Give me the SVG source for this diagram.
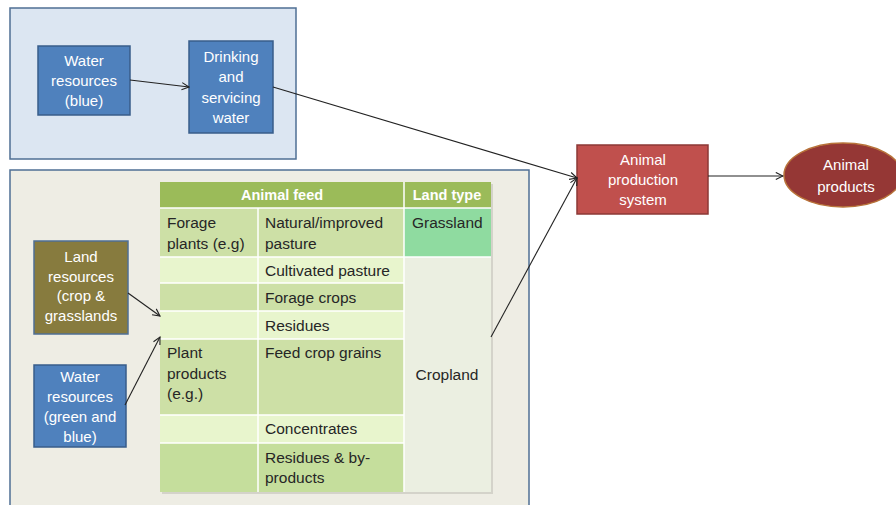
<svg xmlns="http://www.w3.org/2000/svg" width="896" height="505" viewBox="0 0 896 505">
<defs>
<marker id="arr" viewBox="0 0 10 10" refX="9" refY="5" markerWidth="9" markerHeight="9" markerUnits="userSpaceOnUse" orient="auto">
<path d="M1,1 L9,5 L1,9" fill="none" stroke="#222" stroke-width="1.2"/>
</marker>
</defs>
<style>
.panel{stroke:#4f6f94;stroke-width:1.5}
.bluebox{fill:#4f81bd;stroke:#385d8a;stroke-width:1.5}
.wt{font-family:"Liberation Sans",Arial,sans-serif;font-size:15px;fill:#ffffff;text-anchor:middle}
.tt{font-family:"Liberation Sans",Arial,sans-serif;font-size:15.5px;fill:#262626}
.th{font-family:"Liberation Sans",Arial,sans-serif;font-size:14.5px;font-weight:bold;fill:#ffffff;text-anchor:middle}
.dk{fill:#cde0a6}
.lt{fill:#e8f5cd}
.cl{stroke:#ffffff;stroke-width:1.5;fill:none}
.conn{stroke:#222;stroke-width:1.1;fill:none;marker-end:url(#arr)}
</style>
<rect x="0" y="0" width="896" height="505" fill="#ffffff"/>
<g id="panel-water">
<rect class="panel" x="10" y="8" width="286" height="151" fill="#dce6f2"/>
</g>
<g id="panel-land">
<rect class="panel" x="10" y="170" width="519" height="345" fill="#eeede4"/>
</g>
<g id="water-blue">
<rect class="bluebox" x="38" y="46" width="92" height="69"/>
<text class="wt" x="84" y="66">Water</text>
<text class="wt" x="84" y="86">resources</text>
<text class="wt" x="84" y="106">(blue)</text>
</g>
<g id="drinking">
<rect class="bluebox" x="189" y="41" width="84" height="92"/>
<text class="wt" x="231" y="62">Drinking</text>
<text class="wt" x="231" y="82">and</text>
<text class="wt" x="231" y="103">servicing</text>
<text class="wt" x="231" y="123">water</text>
</g>
<g id="land-resources">
<rect x="34" y="241" width="94" height="93" fill="#877b3e" stroke="#4f6f94" stroke-width="1.5"/>
<text class="wt" x="81" y="262">Land</text>
<text class="wt" x="81" y="282">resources</text>
<text class="wt" x="81" y="301">(crop &amp;</text>
<text class="wt" x="81" y="321">grasslands</text>
</g>
<g id="water-green-blue">
<rect class="bluebox" x="34" y="365" width="92" height="82"/>
<text class="wt" x="80" y="382">Water</text>
<text class="wt" x="80" y="402">resources</text>
<text class="wt" x="80" y="422">(green and</text>
<text class="wt" x="80" y="442">blue)</text>
</g>
<g id="feed-table">
<rect x="162" y="184" width="331" height="310" fill="#b9b9b0" opacity="0.5"/>
<rect x="160" y="182" width="331" height="26" fill="#9bbb59"/>
<rect class="dk" x="160" y="208" width="244" height="49"/>
<rect class="lt" x="160" y="257" width="244" height="26"/>
<rect class="dk" x="160" y="283" width="244" height="28"/>
<rect class="lt" x="160" y="311" width="244" height="28"/>
<rect class="dk" x="160" y="339" width="244" height="76"/>
<rect class="lt" x="160" y="415" width="244" height="28"/>
<rect x="160" y="443" width="244" height="49" fill="#c5de9c"/>
<rect x="404" y="208" width="87" height="49" fill="#8fdba0"/>
<rect x="404" y="257" width="87" height="235" fill="#ebefe1"/>
<path class="cl" d="M160,208 H491 M160,257 H404 M160,283 H404 M160,311 H404 M160,339 H404 M160,415 H404 M160,443 H404 M258,208 V492 M404,182 V492"/>
<path d="M404,257 H491" stroke="#ffffff" stroke-width="1.5"/>
<text class="th" x="282" y="200">Animal feed</text>
<text class="th" x="447" y="200">Land type</text>
<text class="tt" x="167" y="228">Forage</text>
<text class="tt" x="167" y="249">plants (e.g)</text>
<text class="tt" x="265" y="228">Natural/improved</text>
<text class="tt" x="265" y="249">pasture</text>
<text class="tt" x="412" y="228">Grassland</text>
<text class="tt" x="265" y="276">Cultivated pasture</text>
<text class="tt" x="265" y="303">Forage crops</text>
<text class="tt" x="265" y="331">Residues</text>
<text class="tt" x="167" y="358">Plant</text>
<text class="tt" x="167" y="379">products</text>
<text class="tt" x="167" y="399">(e.g.)</text>
<text class="tt" x="265" y="358">Feed crop grains</text>
<text class="tt" x="447" y="380" text-anchor="middle">Cropland</text>
<text class="tt" x="265" y="434">Concentrates</text>
<text class="tt" x="265" y="463">Residues &amp; by-</text>
<text class="tt" x="265" y="483">products</text>
</g>
<g id="animal-production">
<rect x="577" y="145" width="131" height="69" fill="#c0504d" stroke="#8c3836" stroke-width="1.5"/>
<text class="wt" x="643" y="165">Animal</text>
<text class="wt" x="643" y="185">production</text>
<text class="wt" x="643" y="205">system</text>
</g>
<g id="animal-products">
<ellipse cx="843" cy="175" rx="59" ry="32" fill="#953735" stroke="#b8733a" stroke-width="1.5"/>
<text class="wt" x="846" y="170">Animal</text>
<text class="wt" x="846" y="192">products</text>
</g>
<g id="connectors">
<line class="conn" x1="130" y1="80" x2="189" y2="87"/>
<line class="conn" x1="273" y1="87" x2="577" y2="178"/>
<line class="conn" x1="491" y1="337" x2="577" y2="178"/>
<line class="conn" x1="708" y1="176" x2="783" y2="176"/>
<line class="conn" x1="128" y1="293" x2="160" y2="316"/>
<line class="conn" x1="125" y1="405" x2="160" y2="337"/>
</g>
</svg>
